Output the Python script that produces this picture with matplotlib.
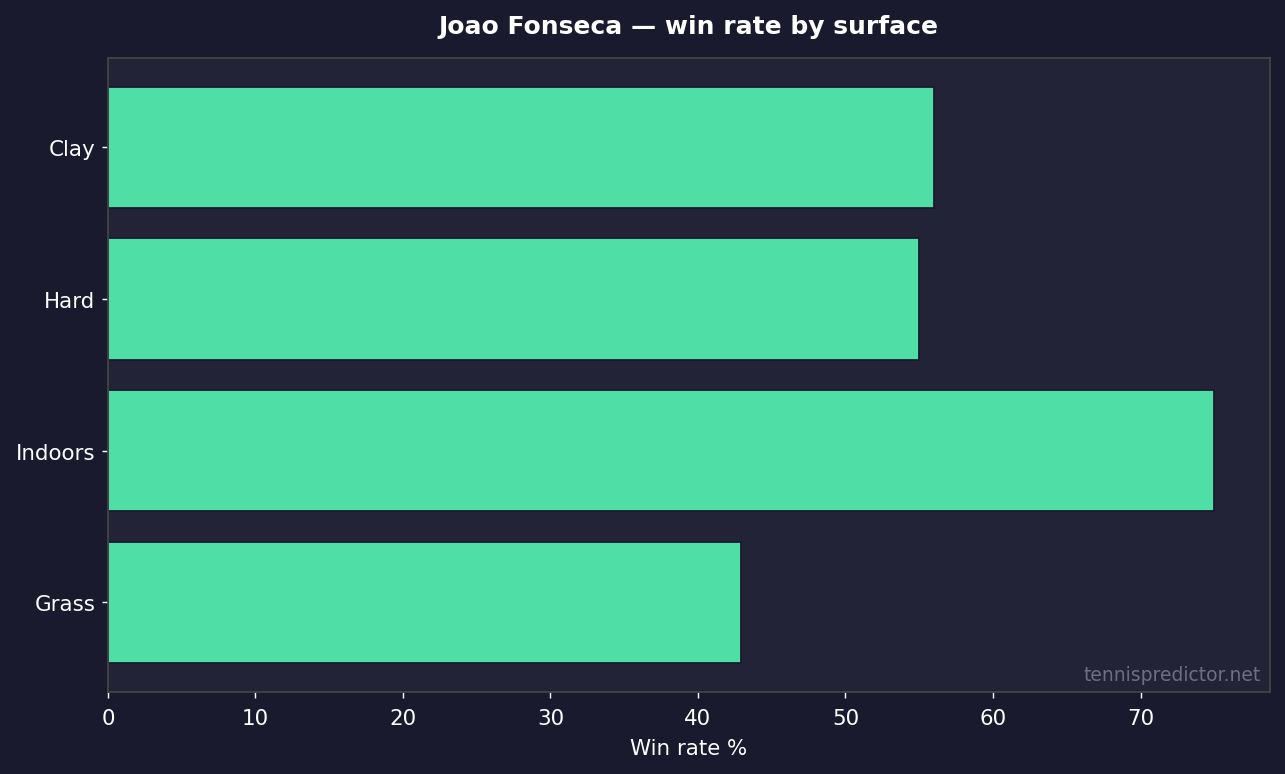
import matplotlib
matplotlib.use('Agg')
import matplotlib.pyplot as plt

plt.rcParams['font.family'] = ['DejaVu Sans']

surfaces = ['Clay', 'Hard', 'Indoors', 'Grass']
win_rates = [56.0, 55.0, 75.0, 42.9]

BG = '#1a1a2e'
AX_BG = '#232338'
BAR = '#4fdea6'

fig, ax = plt.subplots(figsize=(10, 6.03), dpi=128.5)
fig.patch.set_facecolor(BG)
ax.set_facecolor(AX_BG)

ax.barh(surfaces, win_rates, height=0.8, color=BAR, edgecolor=BG, linewidth=1)
ax.invert_yaxis()

ax.set_title('Joao Fonseca \u2014 win rate by surface', color='white',
             fontsize=14, fontweight='bold', pad=14)
ax.set_xlabel('Win rate %', color='white', fontsize=12, labelpad=6)
ax.tick_params(colors='white', labelsize=12)
ax.tick_params(axis='x', pad=5.5)
for s in ax.spines.values():
    s.set_color('#444444')
    s.set_linewidth(1.0)

ax.text(0.992, 0.012, 'tennispredictor.net', transform=ax.transAxes,
        ha='right', va='bottom', color='#6e6e82', fontsize=10.5)

plt.subplots_adjust(left=0.084, right=0.988, top=0.924, bottom=0.106)
plt.savefig('out.png', facecolor=BG)
